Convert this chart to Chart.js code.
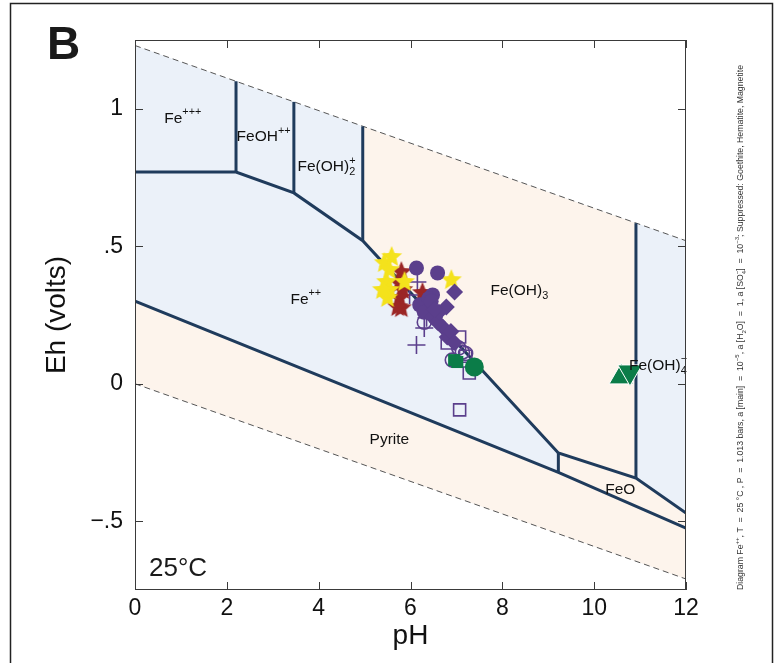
<!DOCTYPE html>
<html>
<head>
<meta charset="utf-8">
<title>Fe-S-H2O Eh-pH diagram</title>
<script src="https://cdn.jsdelivr.net/npm/chart.js"></script>
<style>
  body { margin: 0; background: #fff; }
  canvas { display: block; }
</style>
</head>
<body>
<canvas id="ehph" width="781" height="663"></canvas>

<script>
const FONT = '"Liberation Sans", Arial, Helvetica, sans-serif';

// axis ticks
const xTicks = [0, 2, 4, 6, 8, 10, 12];
const xTickLabels = ['0', '2', '4', '6', '8', '10', '12'];
const yTicks = [-0.5, 0, 0.5, 1];
const yTickLabels = ['\u2212.5', '0', '.5', '1'];

// water stability limits (pH, Eh)
const upperWater = [[0, 1.23], [12, 0.52]];
const lowerWater = [[0, 0], [12, -0.71]];

// predominance boundaries (pH, Eh)
const fe2UpperEdge = [[0, 0.77], [2.2, 0.77], [3.46, 0.694], [4.96, 0.52], [9.22, -0.252], [10.91, -0.343], [12, -0.47]];
const pyriteEdge = [[0, 0.30], [9.22, -0.322], [12, -0.525]];
const edgeFe3FeOH = [[2.2, 0.77], [2.2, 1.10]];
const edgeFeOHFeOH2 = [[3.46, 0.694], [3.46, 1.025]];
const edgeFeOH2FeOH3 = [[4.96, 0.52], [4.96, 0.936]];
const edgeFe2FeO = [[9.22, -0.252], [9.22, -0.322]];
const edgeFeOH3FeOH4 = [[10.91, -0.343], [10.91, 0.584]];

// fields: aqueous band and the solid phases on top of it
const aqueousField = [[0, 1.23], [12, 0.52], [12, -0.71], [0, 0]];
const feOH3Field = [[4.96, 0.936], [10.91, 0.584], [10.91, -0.343], [9.22, -0.252], [4.96, 0.52]];
const feOField = [[9.22, -0.252], [10.91, -0.343], [12, -0.47], [12, -0.525], [9.22, -0.322]];
const pyriteField = [[0, 0.30], [9.22, -0.322], [12, -0.525], [12, -0.71], [0, 0]];

// samples
const yellowStarPH = [5.59, 5.43, 5.54, 5.48, 5.54, 5.50, 5.39, 5.87, 6.89];
const yellowStarEh = [0.461, 0.439, 0.414, 0.370, 0.341, 0.312, 0.341, 0.370, 0.377];
const redStarPH = [5.80, 5.76, 5.83, 5.76, 5.80, 5.72, 6.26];
const redStarEh = [0.406, 0.366, 0.341, 0.312, 0.275, 0.279, 0.330];
const purpleDotPH = [6.13, 6.59, 6.48, 6.35, 6.20, 6.40, 6.30, 6.45, 6.55];
const purpleDotEh = [0.421, 0.403, 0.323, 0.294, 0.287, 0.310, 0.260, 0.300, 0.250];
const purpleDiamondPH = [6.96, 6.78, 6.70, 6.80, 6.48, 6.59, 6.62, 6.88, 6.95, 6.52];
const purpleDiamondEh = [0.334, 0.279, 0.206, 0.170, 0.243, 0.224, 0.260, 0.190, 0.150, 0.270];
const purplePlusPH = [6.15, 5.98, 6.30, 6.13, 6.35];
const purplePlusEh = [0.370, 0.323, 0.203, 0.141, 0.240];
const purpleRingPH = [6.30, 7.13, 6.91, 7.20, 7.05];
const purpleRingEh = [0.224, 0.115, 0.086, 0.110, 0.130];
const purpleSquarePH = [7.07, 6.80, 7.28, 7.07, 7.20];
const purpleSquareEh = [0.170, 0.148, 0.039, -0.095, 0.100];
const greenSquarePH = [7.02, 6.95];
const greenSquareEh = [0.079, 0.086];
const greenDotPH = [7.39];
const greenDotEh = [0.061];
const greenUpPH = [10.59];
const greenUpEh = [0.025];
const greenDownPH = [10.78];
const greenDownEh = [0.043];

// field labels: [pH, Eh] of label centre
const fieldLabels = [
  { at: [1.04, 0.963], segs: [{ t: 'Fe' }, { sup: '+++' }] },
  { at: [2.80, 0.897], segs: [{ t: 'FeOH' }, { sup: '++' }] },
  { at: [4.17, 0.788], segs: [{ t: 'Fe(OH)' }, { sup: '+', sub: '2' }] },
  { at: [3.72, 0.305], segs: [{ t: 'Fe' }, { sup: '++' }] },
  { at: [8.37, 0.340], segs: [{ t: 'Fe(OH)' }, { sub: '3' }] },
  { at: [5.54, -0.205], segs: [{ t: 'Pyrite' }] },
  { at: [10.57, -0.386], segs: [{ t: 'FeO' }] },
  { at: [11.39, 0.065], segs: [{ t: 'Fe(OH)' }, { sup: '\u2212', sub: '4' }] }
];

const sideNote = [
  { t: 'Diagram Fe' }, { sup: '++' },
  { t: ', T  =  25 \u00b0C , P  =  1.013 bars, a [main]  =  10' }, { sup: '\u22125' },
  { t: ', a [H' }, { sub: '2' }, { t: 'O]  =  1, a [SO' }, { sup: '\u2212', sub: '4' },
  { t: ']  =  10' }, { sup: '\u22123' },
  { t: '; Suppressed: Goethite, Hematite, Magnetite' }
];

const NAVY = '#1f3b5c';
const PURPLE = '#5b3f8c';
const GREEN = '#0b7c48';

function pts(list) { return list.map(([x, y]) => ({ x, y })); }
function series(phs, ehs) { return phs.map((x, i) => ({ x, y: ehs[i] })); }

function makeStar(color, r) {
  const c = document.createElement('canvas');
  c.width = c.height = Math.ceil(r * 2 + 2);
  const g = c.getContext('2d');
  const cx = c.width / 2, cy = c.height / 2;
  g.beginPath();
  for (let i = 0; i < 10; i++) {
    const rr = i % 2 ? r * 0.45 : r;
    const a = -Math.PI / 2 + i * Math.PI / 5;
    g.lineTo(cx + rr * Math.cos(a), cy + rr * Math.sin(a));
  }
  g.closePath();
  g.fillStyle = color;
  g.fill();
  return c;
}

function richWidths(ctx, segs, size) {
  return segs.map(s => {
    if (s.t !== undefined) { ctx.font = size + 'px ' + FONT; return ctx.measureText(s.t).width; }
    ctx.font = (size * 0.7) + 'px ' + FONT;
    return Math.max(ctx.measureText(s.sup || '').width, ctx.measureText(s.sub || '').width);
  });
}

function drawRich(ctx, segs, x, y, size, align) {
  const ws = richWidths(ctx, segs, size);
  const total = ws.reduce((a, b) => a + b, 0);
  let cx = align === 'left' ? x : x - total / 2;
  ctx.textAlign = 'left';
  ctx.textBaseline = 'middle';
  segs.forEach((s, i) => {
    if (s.t !== undefined) {
      ctx.font = size + 'px ' + FONT;
      ctx.fillText(s.t, cx, y);
    } else {
      ctx.font = (size * 0.7) + 'px ' + FONT;
      if (s.sup) ctx.fillText(s.sup, cx, y - size * 0.42);
      if (s.sub) ctx.fillText(s.sub, cx, y + size * 0.34);
    }
    cx += ws[i];
  });
  return total;
}

const diagramPlugin = {
  id: 'diagram',
  beforeDatasetsDraw(chart) {
    const { ctx, chartArea: a, scales: { x, y } } = chart;
    const poly = (list, color) => {
      ctx.beginPath();
      list.forEach(([p, e], i) => {
        const px = x.getPixelForValue(p), py = y.getPixelForValue(e);
        i ? ctx.lineTo(px, py) : ctx.moveTo(px, py);
      });
      ctx.closePath();
      ctx.fillStyle = color;
      ctx.fill();
    };
    ctx.save();
    ctx.beginPath();
    ctx.rect(a.left, a.top, a.right - a.left, a.bottom - a.top);
    ctx.clip();
    poly(aqueousField, '#ebf1f9');
    poly(feOH3Field, '#fdf4ec');
    poly(feOField, '#fdf4ec');
    poly(pyriteField, '#fdf4ec');
    ctx.restore();
  },
  afterDatasetsDraw(chart) {
    const { ctx, scales: { x, y } } = chart;
    ctx.save();
    ctx.fillStyle = '#111';
    fieldLabels.forEach(l => {
      drawRich(ctx, l.segs, x.getPixelForValue(l.at[0]), y.getPixelForValue(l.at[1]), 15.5, 'center');
    });
    ctx.restore();
  },
  afterDraw(chart) {
    const { ctx, chartArea: a, scales: { x, y } } = chart;
    ctx.save();
    // plot frame with inward ticks on all four sides
    ctx.strokeStyle = '#3a3a3a';
    ctx.lineWidth = 1;
    ctx.strokeRect(a.left + 0.5, a.top + 0.5, a.right - a.left - 1, a.bottom - a.top - 1);
    ctx.beginPath();
    xTicks.forEach(v => {
      const px = Math.round(x.getPixelForValue(v)) + 0.5;
      ctx.moveTo(px, a.bottom); ctx.lineTo(px, a.bottom - 8);
      ctx.moveTo(px, a.top); ctx.lineTo(px, a.top + 8);
    });
    yTicks.forEach(v => {
      const py = Math.round(y.getPixelForValue(v)) + 0.5;
      ctx.moveTo(a.left, py); ctx.lineTo(a.left + 8, py);
      ctx.moveTo(a.right, py); ctx.lineTo(a.right - 8, py);
    });
    ctx.stroke();

    // outer figure border
    ctx.strokeStyle = '#222';
    ctx.lineWidth = 1.5;
    ctx.strokeRect(10.5, 3.5, 762, 720);

    // panel letter and temperature
    ctx.fillStyle = '#1a1a1a';
    ctx.textAlign = 'left';
    ctx.textBaseline = 'alphabetic';
    ctx.font = 'bold 46px ' + FONT;
    ctx.fillText('B', 47, 59);
    ctx.font = '26px ' + FONT;
    ctx.fillText('25\u00b0C', 149, 576);

    // rotated conditions note
    ctx.translate(741, 590);
    ctx.rotate(-Math.PI / 2);
    const w = richWidths(ctx, sideNote, 8.5).reduce((s, v) => s + v, 0);
    ctx.scale(525 / w, 1);
    ctx.fillStyle = '#333';
    drawRich(ctx, sideNote, 0, 0, 8.5, 'left');
    ctx.restore();
  }
};

const lineStyle = { showLine: true, pointRadius: 0, borderColor: NAVY, borderWidth: 3, order: 5 };
const waterStyle = { showLine: true, pointRadius: 0, borderColor: '#555', borderWidth: 1, borderDash: [6, 4], order: 6 };

const datasets = [
  { data: pts(upperWater), ...waterStyle },
  { data: pts(lowerWater), ...waterStyle },
  { data: pts(fe2UpperEdge), ...lineStyle },
  { data: pts(pyriteEdge), ...lineStyle },
  { data: pts(edgeFe3FeOH), ...lineStyle },
  { data: pts(edgeFeOHFeOH2), ...lineStyle },
  { data: pts(edgeFeOH2FeOH3), ...lineStyle },
  { data: pts(edgeFe2FeO), ...lineStyle },
  { data: pts(edgeFeOH3FeOH4), ...lineStyle },
  { data: series(purpleSquarePH, purpleSquareEh), pointStyle: 'rect', pointRadius: 8.5, backgroundColor: 'transparent', borderColor: PURPLE, borderWidth: 1.6, order: 4 },
  { data: series(purpleRingPH, purpleRingEh), pointStyle: 'circle', pointRadius: 7, backgroundColor: 'transparent', borderColor: PURPLE, borderWidth: 1.6, order: 4 },
  { data: series(purplePlusPH, purplePlusEh), pointStyle: 'cross', pointRadius: 9, borderColor: PURPLE, borderWidth: 1.6, order: 4 },
  { data: series(yellowStarPH, yellowStarEh), pointStyle: makeStar('#f4e21c', 11), order: 3 },
  { data: series(redStarPH, redStarEh), pointStyle: makeStar('#9b2626', 11), order: 3.5 },
  { data: series(purpleDiamondPH, purpleDiamondEh), pointStyle: 'rectRot', pointRadius: 8.5, backgroundColor: PURPLE, borderColor: PURPLE, borderWidth: 0, order: 2 },
  { data: series(purpleDotPH, purpleDotEh), pointStyle: 'circle', pointRadius: 7.5, backgroundColor: PURPLE, borderColor: PURPLE, borderWidth: 0, order: 2 },
  { data: series(greenSquarePH, greenSquareEh), pointStyle: 'rect', pointRadius: 8.5, backgroundColor: GREEN, borderColor: GREEN, borderWidth: 0, order: 1 },
  { data: series(greenDotPH, greenDotEh), pointStyle: 'circle', pointRadius: 9.5, backgroundColor: GREEN, borderColor: GREEN, borderWidth: 0, order: 1 },
  { data: series(greenUpPH, greenUpEh), pointStyle: 'triangle', pointRadius: 14, backgroundColor: GREEN, borderColor: '#ffffff', borderWidth: 1, order: 1.5 },
  { data: series(greenDownPH, greenDownEh), pointStyle: 'triangle', rotation: 180, pointRadius: 14, backgroundColor: GREEN, borderColor: '#ffffff', borderWidth: 1, order: 1 }
];

new Chart(document.getElementById('ehph').getContext('2d'), {
  type: 'scatter',
  data: { datasets },
  options: {
    responsive: false,
    animation: false,
    events: [],
    layout: { padding: { top: 40, right: 95, left: 0, bottom: 0 } },
    plugins: { legend: { display: false }, tooltip: { enabled: false } },
    elements: { line: { tension: 0 } },
    scales: {
      x: {
        type: 'linear', min: 0, max: 12,
        afterBuildTicks: s => { s.ticks = xTicks.map(v => ({ value: v })); },
        afterFit: s => { s.height = 73; },
        grid: { display: false, drawTicks: false },
        border: { display: false },
        ticks: {
          padding: 5, color: '#111', font: { family: FONT, size: 23 },
          callback: (v, i) => xTickLabels[i]
        },
        title: { display: true, text: 'pH', color: '#111', font: { family: FONT, size: 28 }, padding: { top: 0, bottom: 10 } }
      },
      y: {
        type: 'linear', min: -0.75, max: 1.25,
        afterBuildTicks: s => { s.ticks = yTicks.map(v => ({ value: v })); },
        afterFit: s => { s.width = 135; },
        grid: { display: false, drawTicks: false },
        border: { display: false },
        ticks: {
          padding: 12, color: '#111', font: { family: FONT, size: 23 },
          callback: (v, i) => yTickLabels[i]
        },
        title: { display: true, text: 'Eh (volts)', color: '#111', font: { family: FONT, size: 28 }, padding: { top: 40, bottom: 0 } }
      }
    }
  },
  plugins: [diagramPlugin]
});
</script>
</body>
</html>
